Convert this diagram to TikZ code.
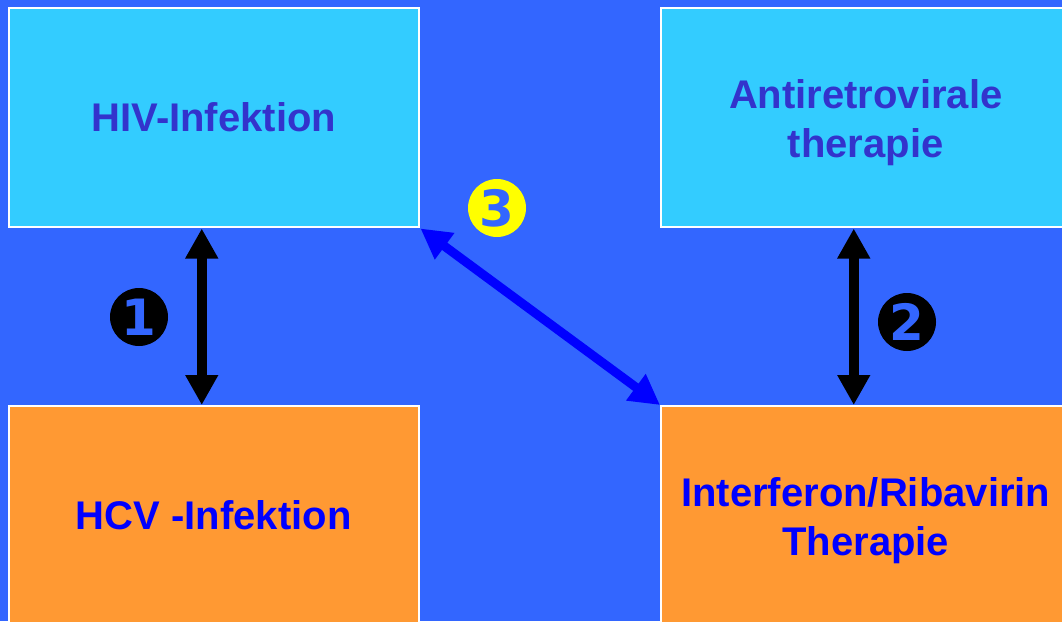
\documentclass[tikz,border=0pt]{standalone}
\usepackage{fontspec}
\setmainfont{Liberation Sans}
\newfontfamily\numfont{DejaVu Sans}
\usetikzlibrary{arrows.meta}
\definecolor{bgblue}{HTML}{3366FF}
\definecolor{boxcyan}{HTML}{33CCFF}
\definecolor{boxorange}{HTML}{FF9933}
\definecolor{txtviolet}{HTML}{3333CC}
\definecolor{txtblue}{HTML}{0000FF}
\definecolor{numyellow}{HTML}{FFFF00}
\newcommand{\toppad}{\rule{0pt}{39pt}}

\begin{document}
\begin{tikzpicture}[x=1pt,y=-1pt,
  box/.style={draw=white,line width=1.5pt,anchor=north west,minimum width=410pt,minimum height=219pt,
    inner sep=0pt,align=center,font=\bfseries\fontsize{40}{49}\selectfont},
  cyanbox/.style={box,fill=boxcyan,text=txtviolet},
  orangebox/.style={box,fill=boxorange,text=txtblue},
  num/.style={circle,inner sep=0pt,minimum size=58pt,text=bgblue,font=\numfont\bfseries\fontsize{50}{50}\selectfont},
  dbl/.style={line width=10pt,{Triangle[width=31pt,length=30pt]}-{Triangle[width=31pt,length=30pt]}}]
\useasboundingbox (0,0) rectangle (1062,621);
\clip (0,0) rectangle (1062,621);
\fill[bgblue] (0,0) rectangle (1062,621);
\node[cyanbox] (hiv) at (8,7) {HIV-Infektion};
\node[cyanbox] (art) at (660,7) {\toppad Antiretrovirale\\therapie};
\node[orangebox] (hcv) at (8,405) {HCV -Infektion};
\node[orangebox] (ifn) at (660,405) {\toppad Interferon/Ribavirin\\Therapie};
\draw[dbl] ([xshift=-12pt,yshift=-1pt]hiv.south) -- ([xshift=-12pt]hcv.north);
\draw[dbl] ([xshift=-12pt,yshift=-1pt]art.south) -- ([xshift=-12pt]ifn.north);
\draw[dbl,txtblue,line width=9pt] ([xshift=1pt,yshift=-1pt]hiv.south east) -- (ifn.north west);
\node[num,fill=black] (n1) at (139,317) {1};
\node[num,fill=black] (n2) at (907,322) {2};
\node[num,fill=numyellow] (n3) at (497,208) {3};
\end{tikzpicture}
\end{document}
